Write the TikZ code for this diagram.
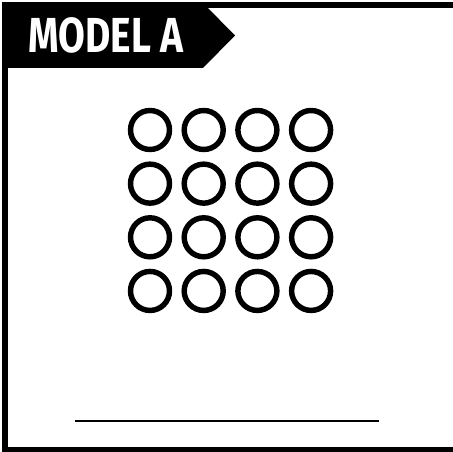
\documentclass[tikz,border=0pt]{standalone}
\usepackage{fontspec}
\setsansfont{Fira Sans}
\usetikzlibrary{positioning}

\begin{document}
\begin{tikzpicture}[
  frame/.style={draw, line width=2.85pt, line join=miter},
  tab/.style={fill=black, draw=none},
  title/.style={text=white, font=\sffamily\bfseries\fontsize{28}{28}\selectfont,
                inner sep=0pt, xscale=0.79},
  counter/.style={draw, circle, line width=3.1pt, minimum size=0.78cm, inner sep=0pt},
  blank/.style={line width=1.1pt}
]

\useasboundingbox (0,0) rectangle (9.06,-9.04);

% Card outline (open on the right)
\draw[frame] (9.06,-0.1) -- (0.1,-0.1) -- (0.1,-9.0) -- (9.06,-9.0);

% Header tab
\fill[tab] (0.06,-0.06) -- (4.06,-0.06) -- (4.7,-0.71) -- (4.06,-1.36) -- (0.06,-1.36) -- cycle;
\node[title] (hdr) at (2.12,-0.70) {MODEL A};

% 4 x 4 array of counters
\foreach \r in {0,...,3}
  \foreach \c in {0,...,3}
    \node[counter] (c\r\c) at (3.0+1.074*\c, -2.6-1.073*\r) {};

% Answer line
\coordinate (blankl) at (1.5,-8.42);
\coordinate (blankr) at (7.58,-8.42);
\draw[blank] (blankl) -- (blankr);

\end{tikzpicture}
\end{document}
